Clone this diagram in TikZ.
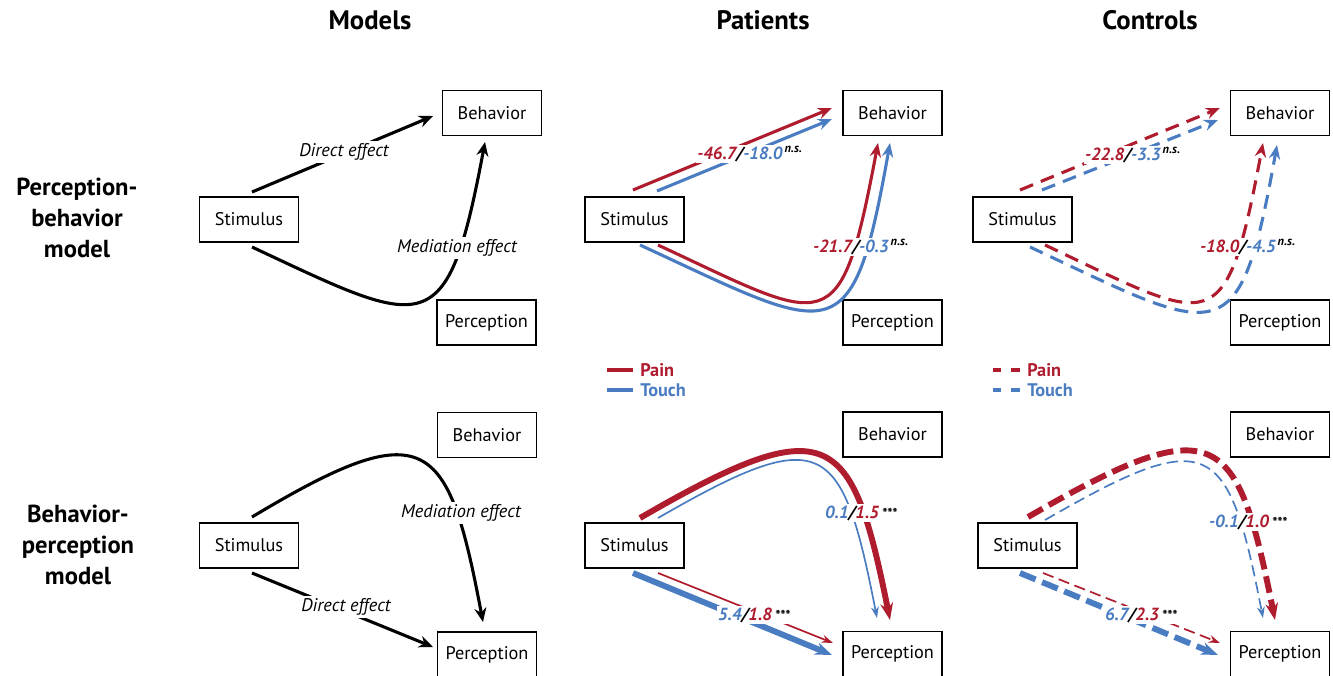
\documentclass[tikz,border=0pt]{standalone}
\usepackage{fontspec}
\setmainfont{PT Sans}
\usetikzlibrary{arrows.meta}
\definecolor{painred}{RGB}{175,28,46}
\definecolor{touchblue}{RGB}{74,124,194}
\newcommand\painv[1]{\textcolor{painred}{#1}}
\newcommand\touchv[1]{\textcolor{touchblue}{#1}}
\newcommand\ns{\textsuperscript{\,n.s.}}
\newcommand\stars{\,{\fontsize{10}{10}\selectfont ***}}
\tikzset{
  box/.style={draw,line width=1.3pt,minimum width=24.75mm,minimum height=11.25mm,
    inner sep=0pt,font=\fontsize{13}{15}\selectfont},
  effect/.style={fill=white,inner sep=1.5pt,font=\fontsize{13}{15}\selectfont\itshape},
  coef/.style={fill=white,inner sep=1pt,font=\fontsize{12.5}{14}\selectfont\bfseries\itshape},
  coltitle/.style={font=\fontsize{19}{22}\selectfont\bfseries},
  rowtitle/.style={align=center,font=\fontsize{17.5}{22}\selectfont\bfseries},
  legendtext/.style={anchor=west,inner sep=0pt,font=\fontsize{13}{15}\selectfont\bfseries},
  mline/.style={line width=2.2pt,-{Stealth[length=10pt,width=8.5pt]}},
  painA/.style={painred,line width=2.2pt,-{Stealth[length=10pt,width=8pt]}},
  touchA/.style={touchblue,line width=2.2pt,-{Stealth[length=10pt,width=8pt]}},
  painThick/.style={painred,line width=4.2pt,-{Stealth[length=12pt,width=9pt]}},
  touchThick/.style={touchblue,line width=4.2pt,-{Stealth[length=12pt,width=9pt]}},
  painThin/.style={painred,line width=1.2pt,-{Stealth[length=8pt,width=5.5pt]}},
  touchThin/.style={touchblue,line width=1.2pt,-{Stealth[length=8pt,width=5.5pt]}},
  ctlA/.style={dash pattern=on 10pt off 6pt},
  ctlThick/.style={dash pattern=on 12pt off 5pt},
  ctlThin/.style={dash pattern=on 8pt off 4pt}
}
\begin{document}
\begin{tikzpicture}[x=.25mm,y=-.25mm]
  \useasboundingbox (0,0) rectangle (1333,675);
  % titles
  \node[coltitle] (tModels) at (370,20) {Models};
  \node[coltitle] (tPatients) at (763,20) {Patients};
  \node[coltitle] (tControls) at (1150,20) {Controls};
  \node[rowtitle] (rowPB) at (77,218) {Perception-\\behavior\\model};
  \node[rowtitle] (rowBP) at (78,545) {Behavior-\\perception\\model};

  % models, perception-behavior
  \node[box] (sM1) at (249,219.5) {Stimulus};
  \node[box] (bM1) at (492,113) {Behavior};
  \node[box] (pM1) at (486.5,322.5) {Perception};
  \draw[mline] ([shift={(3,-27.5)}]sM1.center) -- ([shift={(-59,3)}]bM1.center);
  \draw[mline] ([shift={(3,27.5)}]sM1.center) .. controls +(175,82) and +(-38,203)
    .. ([shift={(-7,29)}]bM1.center);
  \node[effect] (eD1) at (344,152) {Direct effect};
  \node[effect] (eM1) at (457,248) {Mediation effect};

  % models, behavior-perception
  \node[box] (sM2) at (249,545.5) {Stimulus};
  \node[box] (bM2) at (487,435) {Behavior};
  \node[box] (pM2) at (487,654.5) {Perception};
  \draw[mline] ([shift={(3,-28.5)}]sM2.center) .. controls +(175,-105) and +(-35,-185)
    .. ([shift={(-4,-32.5)}]pM2.center);
  \draw[mline] ([shift={(3,27.5)}]sM2.center) -- ([shift={(-54,-7.5)}]pM2.center);
  \node[effect] (eM2) at (461,513) {Mediation effect};
  \node[effect] (eD2) at (346,607) {Direct effect};

  % patients, perception-behavior
  \node[box] (sP1) at (634.5,219.5) {Stimulus};
  \node[box] (bP1) at (892.5,113) {Behavior};
  \node[box] (pP1) at (892.5,322.5) {Perception};
  \draw[painA] ([shift={(-1.5,-29.5)}]sP1.center) -- ([shift={(-60.5,-5)}]bP1.center);
  \draw[touchA] ([shift={(22.5,-28.5)}]sP1.center) -- ([shift={(-60.5,6)}]bP1.center);
  \draw[painA] ([shift={(23.5,25.5)}]sP1.center) .. controls +(172,80) and +(-38,202)
    .. ([shift={(-14.5,30)}]bP1.center);
  \draw[touchA] ([shift={(5.5,25.5)}]sP1.center) .. controls +(195,90) and +(-38,215)
    .. ([shift={(-2.5,30)}]bP1.center);
  \node[coef] (cP1a) at (750,154) {\painv{-46.7}/\touchv{-18.0}\ns};
  \node[coef] (cP1b) at (861,247) {\painv{-21.7}/\touchv{-0.3}\ns};

  % patients, behavior-perception
  \node[box] (sP2) at (634.5,545.5) {Stimulus};
  \node[box] (bP2) at (892.5,434.5) {Behavior};
  \node[box] (pP2) at (892.5,654) {Perception};
  \draw[painThick] ([shift={(5.5,-27.5)}]sP2.center) .. controls +(190,-110) and +(-38,-190)
    .. ([shift={(-2.5,-34)}]pP2.center);
  \draw[touchThin] ([shift={(23.5,-27.5)}]sP2.center) .. controls +(165,-95) and +(-35,-180)
    .. ([shift={(-15.5,-36)}]pP2.center);
  \draw[touchThick] ([shift={(-1.5,27.5)}]sP2.center) -- ([shift={(-60.5,1)}]pP2.center);
  \draw[painThin] ([shift={(23.5,27.5)}]sP2.center) -- ([shift={(-59.5,-11)}]pP2.center);
  \node[coef] (cP2a) at (861,513) {\touchv{0.1}/\painv{1.5}\stars};
  \node[coef] (cP2b) at (754,615) {\touchv{5.4}/\painv{1.8}\stars};

  % controls, perception-behavior
  \node[box] (sC1) at (1022.5,219.5) {Stimulus};
  \node[box] (bC1) at (1280,113) {Behavior};
  \node[box] (pC1) at (1280,322.5) {Perception};
  \draw[painA,ctlA] ([shift={(-2.5,-29.5)}]sC1.center) -- ([shift={(-60,-5)}]bC1.center);
  \draw[touchA,ctlA] ([shift={(19.5,-29.5)}]sC1.center) -- ([shift={(-62,7)}]bC1.center);
  \draw[painA,ctlA] ([shift={(22.5,25.5)}]sC1.center) .. controls +(170,80) and +(-38,202)
    .. ([shift={(-17,30)}]bC1.center);
  \draw[touchA,ctlA] ([shift={(7.5,27.5)}]sC1.center) .. controls +(192,90) and +(-38,213)
    .. ([shift={(-3,32)}]bC1.center);
  \node[coef] (cC1a) at (1133,155) {\painv{-22.8}/\touchv{-3.3}\ns};
  \node[coef] (cC1b) at (1248,247) {\painv{-18.0}/\touchv{-4.5}\ns};

  % controls, behavior-perception
  \node[box] (sC2) at (1027.5,545.5) {Stimulus};
  \node[box] (bC2) at (1280,434.5) {Behavior};
  \node[box] (pC2) at (1280,654) {Perception};
  \draw[painThick,ctlThick] ([shift={(0.5,-28.5)}]sC2.center) .. controls +(190,-110) and +(-38,-190)
    .. ([shift={(-5,-34)}]pC2.center);
  \draw[touchThin,ctlThin] ([shift={(17.5,-25.5)}]sC2.center) .. controls +(165,-95) and +(-35,-180)
    .. ([shift={(-17,-36)}]pC2.center);
  \draw[touchThick,ctlThick] ([shift={(-7.5,27.5)}]sC2.center) -- ([shift={(-62,1)}]pC2.center);
  \draw[painThin,ctlThin] ([shift={(15.5,27.5)}]sC2.center) -- ([shift={(-60,-11)}]pC2.center);
  \node[coef] (cC2a) at (1248,522) {\touchv{-0.1}/\painv{1.0}\stars};
  \node[coef] (cC2b) at (1141,615) {\touchv{6.7}/\painv{2.3}\stars};

  % legends
  \node[legendtext,painred] (lgPainP) at (640,370) {Pain};
  \node[legendtext,touchblue] (lgTouchP) at (640,390) {Touch};
  \draw[painred,line width=2.2pt] ([shift={(-33,0)}]lgPainP.west) -- ([shift={(-7,0)}]lgPainP.west);
  \draw[touchblue,line width=2.2pt] ([shift={(-33,0)}]lgTouchP.west) -- ([shift={(-7,0)}]lgTouchP.west);
  \node[legendtext,painred] (lgPainC) at (1027,370) {Pain};
  \node[legendtext,touchblue] (lgTouchC) at (1027,390) {Touch};
  \draw[painred,line width=2.2pt,dash pattern=on 6pt off 7pt]
    ([shift={(-34,0)}]lgPainC.west) -- ([shift={(-7,0)}]lgPainC.west);
  \draw[touchblue,line width=2.2pt,dash pattern=on 6pt off 7pt]
    ([shift={(-34,0)}]lgTouchC.west) -- ([shift={(-7,0)}]lgTouchC.west);
\end{tikzpicture}
\end{document}
